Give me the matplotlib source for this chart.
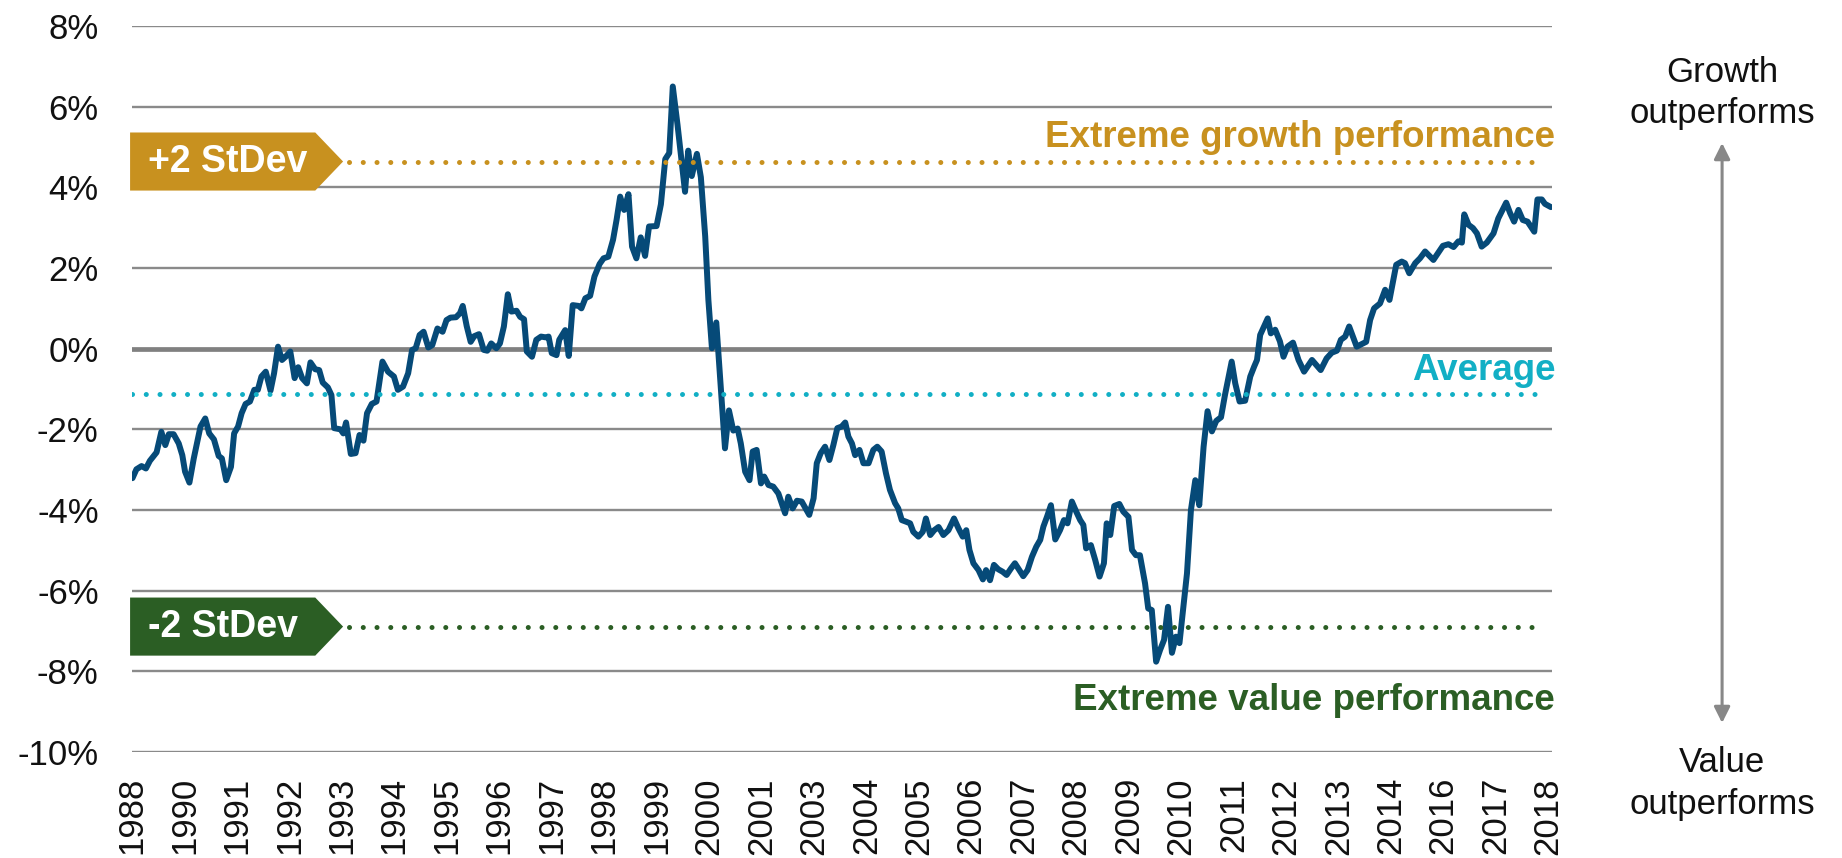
import numpy as np
import matplotlib
matplotlib.use('Agg')
import matplotlib.pyplot as plt
from matplotlib.patches import Polygon, FancyArrowPatch
from matplotlib.transforms import blended_transform_factory

plt.rcParams['font.family'] = ['Liberation Sans', 'DejaVu Sans']

# growth minus value relative return (month index from Jan 1988)
months = [
    0.1, 1.1, 2.4, 3.5, 4.5, 6.2, 7.4, 8.4, 9.3, 10.5, 11.8, 12.7, 13.4, 14.5, 15.6,
    17.3, 18.5, 19.5, 20.7, 21.9, 22.7, 23.8, 25.0, 25.8, 26.8, 27.7, 28.7, 29.8,
    30.9, 31.8, 32.7, 33.8, 35.0, 35.9, 36.9, 37.9, 38.8, 40.0, 41.1, 42.0, 43.0,
    44.2, 45.1, 46.3, 47.3, 48.2, 49.5, 50.4, 51.1, 52.7, 53.4, 54.1, 55.3, 56.5,
    57.5, 58.5, 59.4, 60.6, 61.8, 63.3, 64.7, 66.2, 67.2, 68.5, 69.8, 70.8, 71.7,
    72.7, 73.7, 74.9, 75.9, 77.2, 78.5, 79.5, 80.5, 81.9, 82.9, 83.6, 84.6, 85.6,
    86.5, 87.7, 88.9, 89.8, 90.8, 92.1, 93.0, 94.0, 95.0, 95.9, 97.2, 98.1, 99.1,
    99.8, 101.1, 102.2, 103.4, 104.6, 105.3, 106.1, 107.3, 108.0, 109.5, 110.4,
    111.4, 112.9, 113.6, 114.6, 115.8, 116.9, 118.2, 119.2, 120.4, 121.6, 122.5,
    123.4, 124.4, 125.5, 126.4, 127.5, 128.6, 129.7, 130.7, 132.6, 133.7, 134.8,
    135.8, 136.7, 137.9, 139.0, 139.8, 140.6, 141.5, 142.8, 143.8, 144.9, 145.7,
    146.6, 147.7, 149.9, 150.9, 152.0, 153.1, 153.9, 155.0, 156.1, 156.9, 157.9,
    159.0, 159.8, 160.9, 162.1, 163.4,
    165.1, 165.9, 167.0, 168.1, 169.3, 171.2, 172.3, 173.1, 174.1, 175.2, 176.3,
    177.3, 178.3, 179.4, 180.3, 181.1, 182.0, 182.8, 183.9, 184.9, 186.2, 187.4,
    188.4, 189.5, 190.6, 191.6, 192.9, 193.7, 194.6, 195.7, 196.7, 197.5, 198.8,
    199.9, 200.7, 201.8, 202.8, 203.9, 205.1, 206.4, 207.8, 208.9, 210.0, 210.9,
    211.7, 212.7, 214.0, 215.1, 215.9, 216.9, 217.9, 219.0, 220.1, 221.1, 222.2,
    223.2, 224.3, 225.3, 226.4, 227.5, 228.6, 229.6, 230.4, 231.3, 232.3, 233.4,
    234.6, 235.6, 236.5, 237.6, 238.7, 239.7, 240.5, 241.2, 242.4, 243.5, 244.6,
    245.7, 246.4, 247.3, 248.3, 249.6, 250.6, 251.9, 252.8, 253.8, 254.8, 256.1,
    256.9, 257.8, 258.9, 259.9, 260.9, 261.9, 262.9, 263.9, 264.8, 265.8, 266.7,
    267.7, 268.8, 269.8, 270.9, 271.9, 273.0, 274.1, 275.3, 276.3,
    278.0, 278.9, 280.0, 281.4, 282.7, 283.7, 284.4, 285.2, 287.1, 287.9, 289.0,
    290.2, 291.1, 292.1, 293.5, 294.9, 296.3, 298.3, 300.5, 302.0, 303.3, 304.6,
    305.6, 306.7, 307.7, 309.6, 312.0, 313.0, 314.0, 315.5, 316.8, 317.9, 319.6,
    321.0, 321.8, 322.9, 324.4, 325.6, 326.9, 329.0, 331.4, 332.8, 334.1, 335.3,
    336.2, 336.8, 337.9, 339.0, 340.0, 341.2, 342.5, 344.2, 345.4, 347.4, 348.4,
    349.4, 350.5, 351.6, 352.8, 354.5, 355.3, 356.4, 357.2, 358.7,
]
excess = [
    -3.21, -2.99, -2.91, -2.97, -2.78, -2.57, -2.06, -2.39, -2.12, -2.12, -2.35,
    -2.64, -3.05, -3.32, -2.72, -1.93, -1.73, -2.10, -2.25, -2.66, -2.72, -3.26,
    -2.93, -2.10, -1.93, -1.60, -1.37, -1.31, -1.02, -1.02, -0.69, -0.57, -1.04,
    -0.61, 0.05, -0.28, -0.20, -0.07, -0.73, -0.46, -0.73, -0.86, -0.34, -0.51,
    -0.53, -0.84, -0.96, -1.15, -1.97, -2.00, -2.10, -1.83, -2.61, -2.59, -2.14,
    -2.28, -1.60, -1.37, -1.31, -0.32, -0.57, -0.69, -1.02, -0.94, -0.61, -0.03,
    0.01, 0.34, 0.42, 0.03, 0.09, 0.50, 0.42, 0.71, 0.77, 0.78, 0.88, 1.06, 0.56,
    0.17, 0.31, 0.36, -0.03, -0.05, 0.13, 0.01, 0.13, 0.55, 1.35, 0.92, 0.94, 0.79,
    0.73, -0.07, -0.20, 0.22, 0.30, 0.28, 0.30, -0.11, -0.16, 0.22, 0.46, -0.18,
    1.08, 1.06, 1.00, 1.25, 1.31, 1.79, 2.10, 2.24, 2.28, 2.70, 3.20,
    3.77, 3.44, 3.83, 2.53, 2.24, 2.76, 2.30, 3.03, 3.04, 3.58, 4.70, 4.85, 6.50,
    5.55, 4.60, 3.89, 4.91, 4.28, 4.83, 4.25, 2.78, 1.21, 0.01, 0.65, -2.47, -1.53,
    -2.03, -1.98, -2.35, -3.05, -3.26, -2.55, -2.51, -3.34, -3.17, -3.38, -3.42,
    -3.59,
    -4.08, -3.67, -3.96, -3.77, -3.79, -4.12, -3.71, -2.84, -2.59, -2.43, -2.76,
    -2.39, -1.97, -1.93, -1.83, -2.18, -2.35, -2.64, -2.51, -2.84, -2.84, -2.51,
    -2.43, -2.55, -3.09, -3.50, -3.83, -3.96, -4.25, -4.29, -4.33, -4.54, -4.66,
    -4.54, -4.21, -4.62, -4.50, -4.42, -4.62, -4.50, -4.21, -4.45, -4.66, -4.50,
    -4.99, -5.32, -5.49, -5.72, -5.49, -5.74, -5.36, -5.47, -5.53, -5.61, -5.45,
    -5.32, -5.49, -5.64, -5.49, -5.16, -4.91, -4.74, -4.41, -4.17, -3.88, -4.73,
    -4.50, -4.25, -4.33, -3.79, -4.04, -4.25, -4.37, -4.95, -4.87, -5.24, -5.65,
    -5.32, -4.33, -4.62, -3.90, -3.85, -4.04, -4.17, -4.99, -5.12, -5.12, -5.82,
    -6.44, -6.48, -7.76, -7.47, -7.22, -6.40, -7.54, -7.14, -7.30, -6.40, -5.57,
    -4.00, -3.26, -3.88, -2.43, -1.55, -2.05, -1.79, -1.70, -1.15,
    -0.32, -0.86, -1.31, -1.29, -0.69, -0.44, -0.28, 0.34, 0.75, 0.38, 0.47, 0.18,
    -0.20, 0.05, 0.15, -0.28, -0.57, -0.28, -0.53, -0.24, -0.10, -0.05, 0.22, 0.30,
    0.55, 0.05, 0.17, 0.71, 1.00, 1.12, 1.46, 1.21, 2.08, 2.16, 2.12, 1.87, 2.12,
    2.24, 2.41, 2.20, 2.55, 2.59, 2.52, 2.66, 2.63, 3.33, 3.07, 2.99, 2.86, 2.53,
    2.63, 2.86, 3.23, 3.62, 3.36, 3.15, 3.44, 3.19, 3.15, 2.90, 3.70, 3.70, 3.59,
    3.51,
]

tick_labels = ['1988', '1990', '1991', '1992', '1993', '1994', '1995', '1996',
               '1997', '1998', '1999', '2000', '2001', '2003', '2004', '2005',
               '2006', '2007', '2008', '2009', '2010', '2011', '2012', '2013',
               '2014', '2016', '2017', '2018']
y_ticks = [8, 6, 4, 2, 0, -2, -4, -6, -8, -10]
y_labels = ['8%', '6%', '4%', '2%', '0%', '-2%', '-4%', '-6%', '-8%', '-10%']

plus_2sd = 4.64
minus_2sd = -6.89
average = -1.13

NAVY = '#064a78'
GOLD = '#c8911f'
GREEN = '#2b5e24'
TEAL = '#12afc5'
GRID = '#8a8a8a'

fig = plt.figure(figsize=(18.42, 8.58), dpi=100)
ax = fig.add_axes([0.0717, 0.1235, 0.7709, 0.8462])

ax.set_xlim(0, 359)
ax.set_ylim(-10, 8)

for y in y_ticks:
    if y == 0:
        ax.axhline(y, color='#808080', lw=3.4, zorder=1)
    else:
        ax.axhline(y, color=GRID, lw=1.7, zorder=1)

ax.plot(months, excess, color=NAVY, lw=4.3, solid_joinstyle='round',
        solid_capstyle='round', zorder=3)

dots = dict(lw=3.6, linestyle=(0, (0.01, 2.74)), dash_capstyle='round', zorder=4)
ax.axhline(plus_2sd, xmin=0.153, xmax=0.995, color=GOLD, **dots)
ax.axhline(minus_2sd, xmin=0.153, xmax=0.995, color=GREEN, **dots)
ax.axhline(average, xmin=0.0, xmax=0.995, color=TEAL, **dots)

# badges on the left
trans = blended_transform_factory(ax.transAxes, ax.transData)
for level, text, color, tx in [(plus_2sd, '+2 StDev', GOLD, 0.067),
                               (minus_2sd, '-2 StDev', GREEN, 0.064)]:
    h = 0.72
    shape = Polygon([(-0.0014, level + h), (0.129, level + h), (0.1486, level),
                     (0.129, level - h), (-0.0014, level - h)],
                    closed=True, transform=trans, facecolor=color,
                    edgecolor='none', clip_on=False, zorder=5)
    ax.add_patch(shape)
    ax.text(tx, level, text, transform=trans, ha='center', va='center',
            color='white', fontsize=27, fontweight='bold', zorder=6)

ax.text(359.8, 5.0, 'Extreme growth performance', ha='right', va='baseline',
        color=GOLD, fontsize=26.5, fontweight='bold')
ax.text(359.8, -0.78, 'Average', ha='right', va='baseline',
        color=TEAL, fontsize=26.5, fontweight='bold')
ax.text(359.8, -8.96, 'Extreme value performance', ha='right', va='baseline',
        color=GREEN, fontsize=26.5, fontweight='bold')

ax.set_xticks(np.linspace(0, 358, len(tick_labels)))
ax.set_xticklabels(tick_labels, rotation=90, fontsize=25, color='#111111')
ax.set_yticks(y_ticks)
ax.set_yticklabels(y_labels, fontsize=25, color='#111111')
ax.tick_params(axis='y', length=0, pad=24)
ax.tick_params(axis='x', length=0, pad=18)
for s in ax.spines.values():
    s.set_visible(False)

# right-hand annotation
fig.text(0.9349, 0.8915, 'Growth\noutperforms', ha='center', va='center',
         fontsize=25, color='#111111', linespacing=1.32)
fig.text(0.9349, 0.087, 'Value\noutperforms', ha='center', va='center',
         fontsize=25, color='#111111', linespacing=1.32)
arrow = FancyArrowPatch((0.9349, 1 - 143 / 858), (0.9349, 1 - 723 / 858),
                        transform=fig.transFigure, arrowstyle='<|-|>',
                        mutation_scale=24, color='#888888', lw=2.2,
                        shrinkA=0, shrinkB=0)
fig.patches.append(arrow)

fig.savefig('out.png', dpi=100)
